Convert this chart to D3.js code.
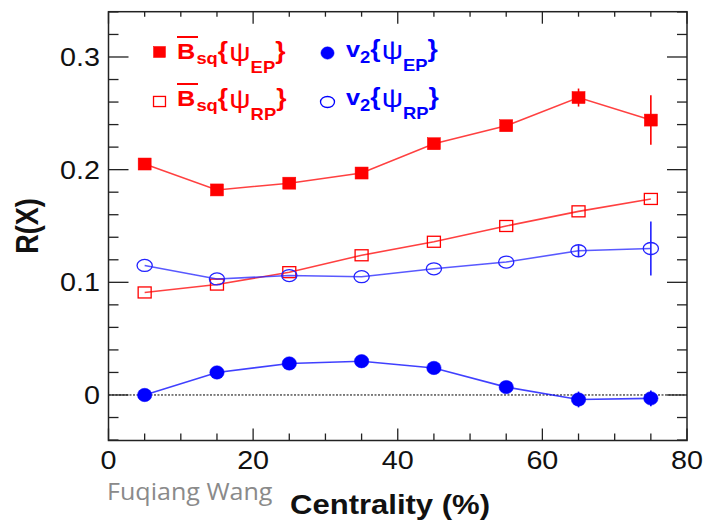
<!DOCTYPE html>
<html><head><meta charset="utf-8">
<script src="https://cdn.jsdelivr.net/npm/d3@7"></script>
<style>body{margin:0;background:#fff}</style>
</head><body>
<svg id="c" width="704" height="522"></svg>
<script>
const centrality = [5, 15, 25, 35, 45, 55, 65, 75];
const bsqEP = [0.205, 0.182, 0.188, 0.197, 0.223, 0.239, 0.264, 0.244];
const bsqEPerr = [0, 0, 0, 0, 0, 0, 0.008, 0.022];
const bsqRP = [0.091, 0.098, 0.109, 0.124, 0.136, 0.150, 0.163, 0.174];
const v2RP = [0.115, 0.103, 0.106, 0.105, 0.112, 0.118, 0.128, 0.130];
const v2RPerr = [0, 0, 0, 0, 0, 0, 0.005, 0.024];
const v2EP = [0.000, 0.020, 0.028, 0.030, 0.024, 0.007, -0.004, -0.003];
const v2EPerr = [0, 0, 0, 0, 0, 0, 0.007, 0.007];
const xTicks = [0, 20, 40, 60, 80];
const yTicks = [0, 0.1, 0.2, 0.3];

const svg = d3.select("#c");
const L = 108.5, R = 687, T = 11.7, B = 440.5;
const x = d3.scaleLinear().domain([0, 80]).range([L, R]);
const y = d3.scaleLinear().domain([-0.0404, 0.3402]).range([B, T]);
const font = "'Liberation Sans', Arial, sans-serif";
const ink = "#111";
const SX = 1.15; // horizontal stretch of the original picture

function stext(px, py, str, opts = {}) {
  const g = svg.append("g").attr("transform", `translate(${px},${py}) scale(${opts.sx || SX},1)` + (opts.rot ? ` rotate(${opts.rot})` : ""));
  const t = g.append("text").attr("x", 0).attr("y", 0)
    .attr("text-anchor", opts.anchor || "start")
    .attr("font-family", opts.family || font)
    .attr("font-size", opts.size || 25)
    .attr("font-weight", opts.weight || "normal")
    .attr("fill", opts.fill || ink);
  if (str !== null) t.text(str);
  return t;
}

// zero dotted line
svg.append("line").attr("x1", L).attr("x2", R).attr("y1", y(0)).attr("y2", y(0))
  .attr("stroke", "#000").attr("stroke-width", 1).attr("stroke-dasharray", "2,1.5");

// ticks (inward, mirrored)
const xMinor = d3.range(0, 81, 5);
const yMinor = d3.range(-2, 18).map(v => v * 0.02);
const g = svg.append("g").attr("stroke", "#222").attr("stroke-width", 1.3);
xMinor.forEach(v => {
  const major = v % 20 === 0;
  g.append("line").attr("x1", x(v)).attr("x2", x(v)).attr("y1", B).attr("y2", B - (major ? 12 : 7));
  g.append("line").attr("x1", x(v)).attr("x2", x(v)).attr("y1", T).attr("y2", T + (major ? 12 : 5));
});
yMinor.forEach(v => {
  if (v > 0.341) return;
  const major = Math.abs(v * 10 - Math.round(v * 10)) < 1e-6;
  const len = major ? 20 : 10;
  g.append("line").attr("x1", L).attr("x2", L + len).attr("y1", y(v)).attr("y2", y(v));
  g.append("line").attr("x1", R).attr("x2", R - len).attr("y1", y(v)).attr("y2", y(v));
});
svg.append("rect").attr("x", L).attr("y", T).attr("width", R - L).attr("height", B - T)
  .attr("fill", "none").attr("stroke", "#222").attr("stroke-width", 1.5);

// tick labels
xTicks.forEach(d => stext(x(d), 469, String(d), {anchor: "middle", size: 25}));
yTicks.forEach(d => stext(100, y(d) + 9, d === 0 ? "0" : d.toFixed(1), {anchor: "end", size: 25}));

// axis titles
stext(38, 226, "R(X)", {anchor: "middle", size: 27, weight: "bold", rot: -90});
stext(390, 514, "Centrality (%)", {anchor: "middle", size: 27, weight: "bold"});
stext(107, 500, "Fuqiang Wang", {family: "'Open Sans', 'Noto Sans', sans-serif", size: 24, fill: "#8a8a8a", sx: 1.045});

// markers
function drawMarker(cx, cy, color, type, filled, scale = 1) {
  if (type === "sq") {
    const w = 13 * scale, h = (filled ? 12 : 11) * scale;
    svg.append("rect").attr("x", cx - w / 2).attr("y", cy - h / 2).attr("width", w).attr("height", h)
      .attr("fill", filled ? color : "none")
      .attr("stroke", color).attr("stroke-width", filled ? 0.5 : 1.3);
  } else {
    const rx = (filled ? 7.2 : 7.6) * scale, ry = (filled ? 6.7 : 6.0) * scale;
    svg.append("ellipse").attr("cx", cx).attr("cy", cy).attr("rx", rx).attr("ry", ry)
      .attr("fill", filled ? color : "none").attr("stroke", color).attr("stroke-width", filled ? 0.5 : 1.3);
  }
}
function drawSeries(vals, errs, color, type, filled) {
  const pts = centrality.map((c, i) => [c, vals[i], errs ? errs[i] : 0]);
  const line = d3.line().x(d => x(d[0])).y(d => y(d[1]));
  svg.append("path").attr("d", line(pts)).attr("fill", "none").attr("stroke", color)
    .attr("stroke-opacity", 0.75).attr("stroke-width", 1.6);
  pts.forEach(d => {
    if (d[2] > 0) {
      svg.append("line").attr("x1", x(d[0])).attr("x2", x(d[0]))
        .attr("y1", y(d[1] - d[2])).attr("y2", y(d[1] + d[2]))
        .attr("stroke", color).attr("stroke-width", 1.6);
    }
  });
  pts.forEach(d => drawMarker(x(d[0]), y(d[1]), color, type, filled));
}
drawSeries(bsqRP, null, "#ff0000", "sq", false);
drawSeries(v2RP, v2RPerr, "#2222ff", "ci", false);
drawSeries(bsqEP, bsqEPerr, "#ff0000", "sq", true);
drawSeries(v2EP, v2EPerr, "#0000ff", "ci", true);

// legend
const legendItems = [
  {mx: 159.5, my: 52, type: "sq", filled: true, color: "#ff0000", tx: 177, base: 59, kind: "B", sub: "EP"},
  {mx: 159.5, my: 101.5, type: "sq", filled: false, color: "#ff0000", tx: 177, base: 106, kind: "B", sub: "RP"},
  {mx: 327.5, my: 53, type: "ci", filled: true, color: "#0000ff", tx: 346, base: 57, kind: "v", sub: "EP"},
  {mx: 327.5, my: 102, type: "ci", filled: false, color: "#0000ff", tx: 346, base: 105, kind: "v", sub: "RP"}
];
legendItems.forEach(it => {
  drawMarker(it.mx, it.my, it.color, it.type, it.filled, 0.92);
  const t = stext(it.tx, it.base, null, {size: 22, weight: "bold", fill: it.color});
  if (it.kind === "B") {
    t.append("tspan").text("B");
    t.append("tspan").attr("font-size", 16).attr("dx", 1).attr("dy", 5).text("sq");
    t.append("tspan").attr("font-size", 23).attr("dy", -5).text("{");
    svg.append("line").attr("x1", it.tx).attr("x2", it.tx + 21).attr("y1", it.base - 22).attr("y2", it.base - 22)
      .attr("stroke", it.color).attr("stroke-width", 2);
  } else {
    t.append("tspan").text("v");
    t.append("tspan").attr("font-size", 16).attr("dy", 6).text("2");
    t.append("tspan").attr("font-size", 23).attr("dy", -6).text("{");
  }
  t.append("tspan").attr("font-size", 26).attr("font-weight", "normal").attr("dx", 1).attr("dy", 2).text("ψ");
  t.append("tspan").attr("font-size", 16).attr("font-weight", "bold").attr("dy", 12).text(it.sub);
  t.append("tspan").attr("font-size", 23).attr("font-weight", "bold").attr("dy", -14).text("}");
});
</script>
</body></html>
